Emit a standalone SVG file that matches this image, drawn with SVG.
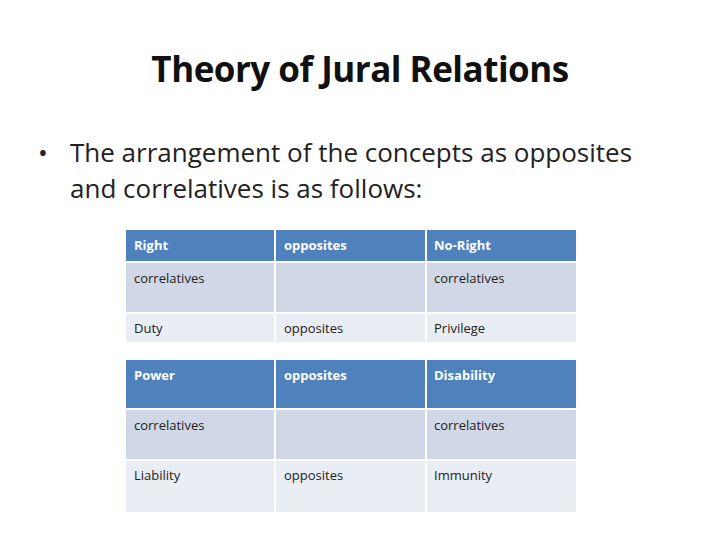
<svg xmlns="http://www.w3.org/2000/svg" width="720" height="540" viewBox="0 0 720 540">
<style>
text{font-family:"Open Sans","Liberation Sans",sans-serif}
.h{fill:#4F81BD}.a{fill:#D0D8E8}.b{fill:#E9EDF4}
.ht{fill:#fff;font-size:13px;font-weight:bold}
.bt{fill:#222;font-size:13px}
.g{stroke:#fff;stroke-width:2}
</style>
<rect width="720" height="540" fill="#fff"/>
<text x="360" y="82" text-anchor="middle" font-size="35" font-weight="bold" fill="#111" style="font-family:'Open Sans','Liberation Sans',sans-serif;letter-spacing:-0.5px">Theory of Jural Relations</text>
<text x="38" y="162" font-size="26" fill="#222">•</text>
<text x="70" y="162" font-size="26" fill="#222">The arrangement of the concepts as opposites</text>
<text x="70" y="198" font-size="26" fill="#222">and correlatives is as follows:</text>
<g id="table1">
<rect class="h" x="126" y="230" width="450" height="32"/>
<rect class="a" x="126" y="262" width="450" height="51"/>
<rect class="b" x="126" y="313" width="450" height="29"/>
<line class="g" x1="126" y1="262" x2="576" y2="262"/>
<line class="g" x1="126" y1="313" x2="576" y2="313"/>
<line class="g" x1="275" y1="230" x2="275" y2="342"/>
<line class="g" x1="426" y1="230" x2="426" y2="342"/>
<text class="ht" x="134" y="250">Right</text>
<text class="ht" x="284" y="250">opposites</text>
<text class="ht" x="434" y="250">No-Right</text>
<text class="bt" x="134" y="283">correlatives</text>
<text class="bt" x="434" y="283">correlatives</text>
<text class="bt" x="134" y="333">Duty</text>
<text class="bt" x="284" y="333">opposites</text>
<text class="bt" x="434" y="333">Privilege</text>
</g>
<g id="table2">
<rect class="h" x="126" y="360" width="450" height="49"/>
<rect class="a" x="126" y="409" width="450" height="51"/>
<rect class="b" x="126" y="460" width="450" height="52"/>
<line class="g" x1="126" y1="409" x2="576" y2="409"/>
<line class="g" x1="126" y1="460" x2="576" y2="460"/>
<line class="g" x1="275" y1="360" x2="275" y2="512"/>
<line class="g" x1="426" y1="360" x2="426" y2="512"/>
<text class="ht" x="134" y="380">Power</text>
<text class="ht" x="284" y="380">opposites</text>
<text class="ht" x="434" y="380">Disability</text>
<text class="bt" x="134" y="430">correlatives</text>
<text class="bt" x="434" y="430">correlatives</text>
<text class="bt" x="134" y="480">Liability</text>
<text class="bt" x="284" y="480">opposites</text>
<text class="bt" x="434" y="480">Immunity</text>
</g>
</svg>
